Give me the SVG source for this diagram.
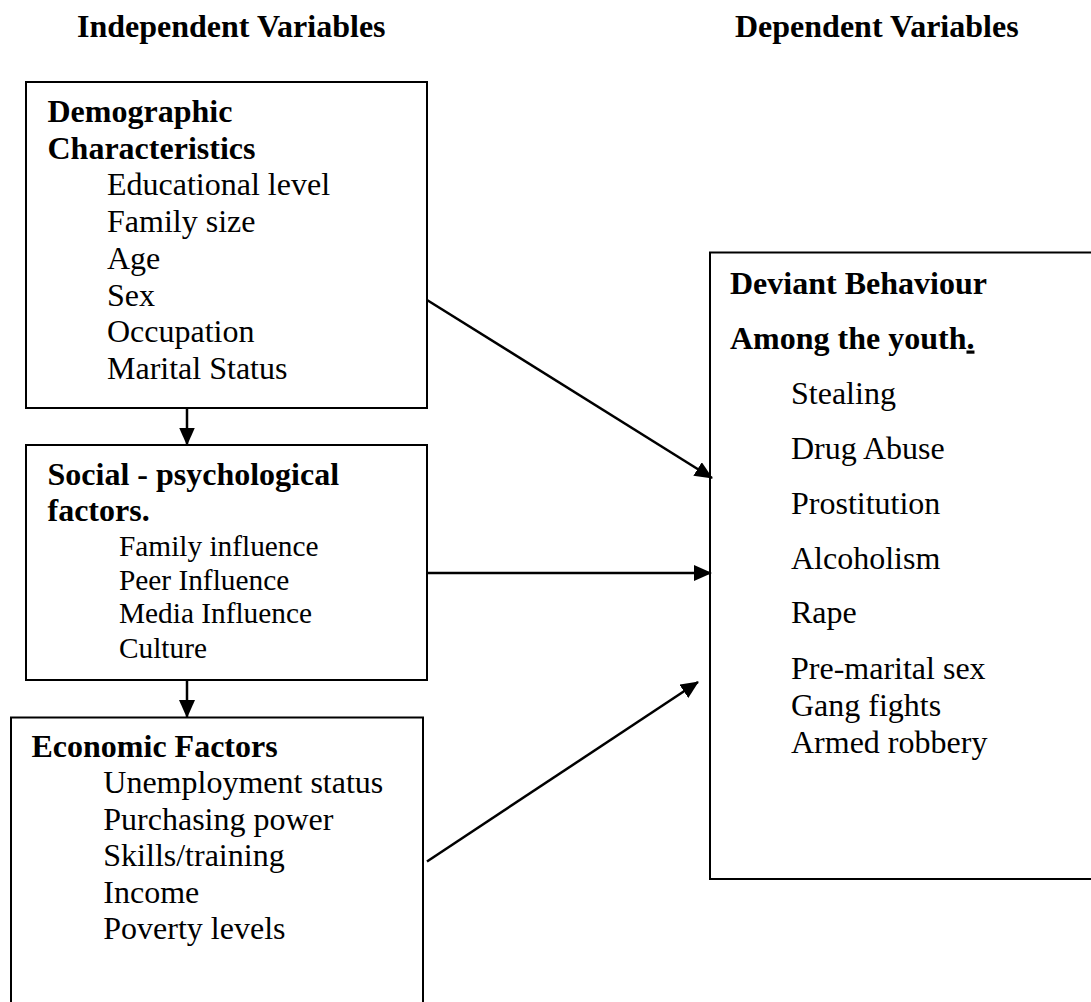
<svg xmlns="http://www.w3.org/2000/svg" width="1091" height="1002" viewBox="0 0 1091 1002">
<style>
text { font-family: "Liberation Serif", "Times New Roman", serif; font-size: 32px; fill: #000; }
.b { font-weight: bold; }
.s { font-size: 29.33px; }
.box { fill: #fff; stroke: #000; stroke-width: 2; }
.con { stroke: #000; stroke-width: 2.5; fill: none; marker-end: url(#ah); }
</style>
<defs>
<marker id="ah" markerUnits="userSpaceOnUse" markerWidth="18" markerHeight="16" refX="17" refY="8" orient="auto">
<path d="M0,0 L18,8 L0,16 z" fill="#000"/>
</marker>
</defs>
<rect width="1091" height="1002" fill="#fff"/>
<g id="headers">
<text class="b" x="77" y="37">Independent Variables</text>
<text class="b" x="735" y="37">Dependent Variables</text>
</g>
<g id="demographic">
<rect class="box" x="26" y="82" width="401" height="326"/>
<text class="b" x="47.5" y="122">Demographic</text>
<text class="b" x="47.5" y="158.7">Characteristics</text>
<text x="107" y="195.4">Educational level</text>
<text x="107" y="232.1">Family size</text>
<text x="107" y="268.8">Age</text>
<text x="107" y="305.5">Sex</text>
<text x="107" y="342.2">Occupation</text>
<text x="107" y="378.9">Marital Status</text>
</g>
<g id="social">
<rect class="box" x="26" y="445" width="401" height="235"/>
<text class="b" x="47.5" y="485">Social - psychological</text>
<text class="b" x="47.5" y="521">factors.</text>
<text class="s" x="119" y="555.7">Family influence</text>
<text class="s" x="119" y="589.7">Peer Influence</text>
<text class="s" x="119" y="623.2">Media Influence</text>
<text class="s" x="119" y="657.5">Culture</text>
</g>
<g id="economic">
<rect class="box" x="11" y="717.5" width="412" height="300"/>
<text class="b" x="31.5" y="757.3">Economic Factors</text>
<text x="103.3" y="793.3">Unemployment status</text>
<text x="103.3" y="829.7">Purchasing power</text>
<text x="103.3" y="866.1">Skills/training</text>
<text x="103.3" y="902.7">Income</text>
<text x="103.3" y="939.2">Poverty levels</text>
</g>
<g id="deviant">
<rect class="box" x="710" y="252.5" width="390" height="626.5"/>
<text class="b" x="730" y="293.5">Deviant Behaviour</text>
<text class="b" x="730" y="348.5">Among the youth<tspan text-decoration="underline">.</tspan></text>
<text x="791" y="403.5">Stealing</text>
<text x="791" y="458.5">Drug Abuse</text>
<text x="791" y="513.5">Prostitution</text>
<text x="791" y="568.5">Alcoholism</text>
<text x="791" y="623">Rape</text>
<text x="791" y="679.3">Pre-marital sex</text>
<text x="791" y="716">Gang fights</text>
<text x="791" y="753">Armed robbery</text>
</g>
<g id="connectors">
<line class="con" x1="187" y1="408" x2="187" y2="444.5"/>
<line class="con" x1="187" y1="680" x2="187" y2="717"/>
<line class="con" x1="427" y1="300" x2="712" y2="478"/>
<line class="con" x1="427" y1="573" x2="711" y2="573"/>
<line class="con" x1="427" y1="861.5" x2="698" y2="682"/>
</g>
</svg>
